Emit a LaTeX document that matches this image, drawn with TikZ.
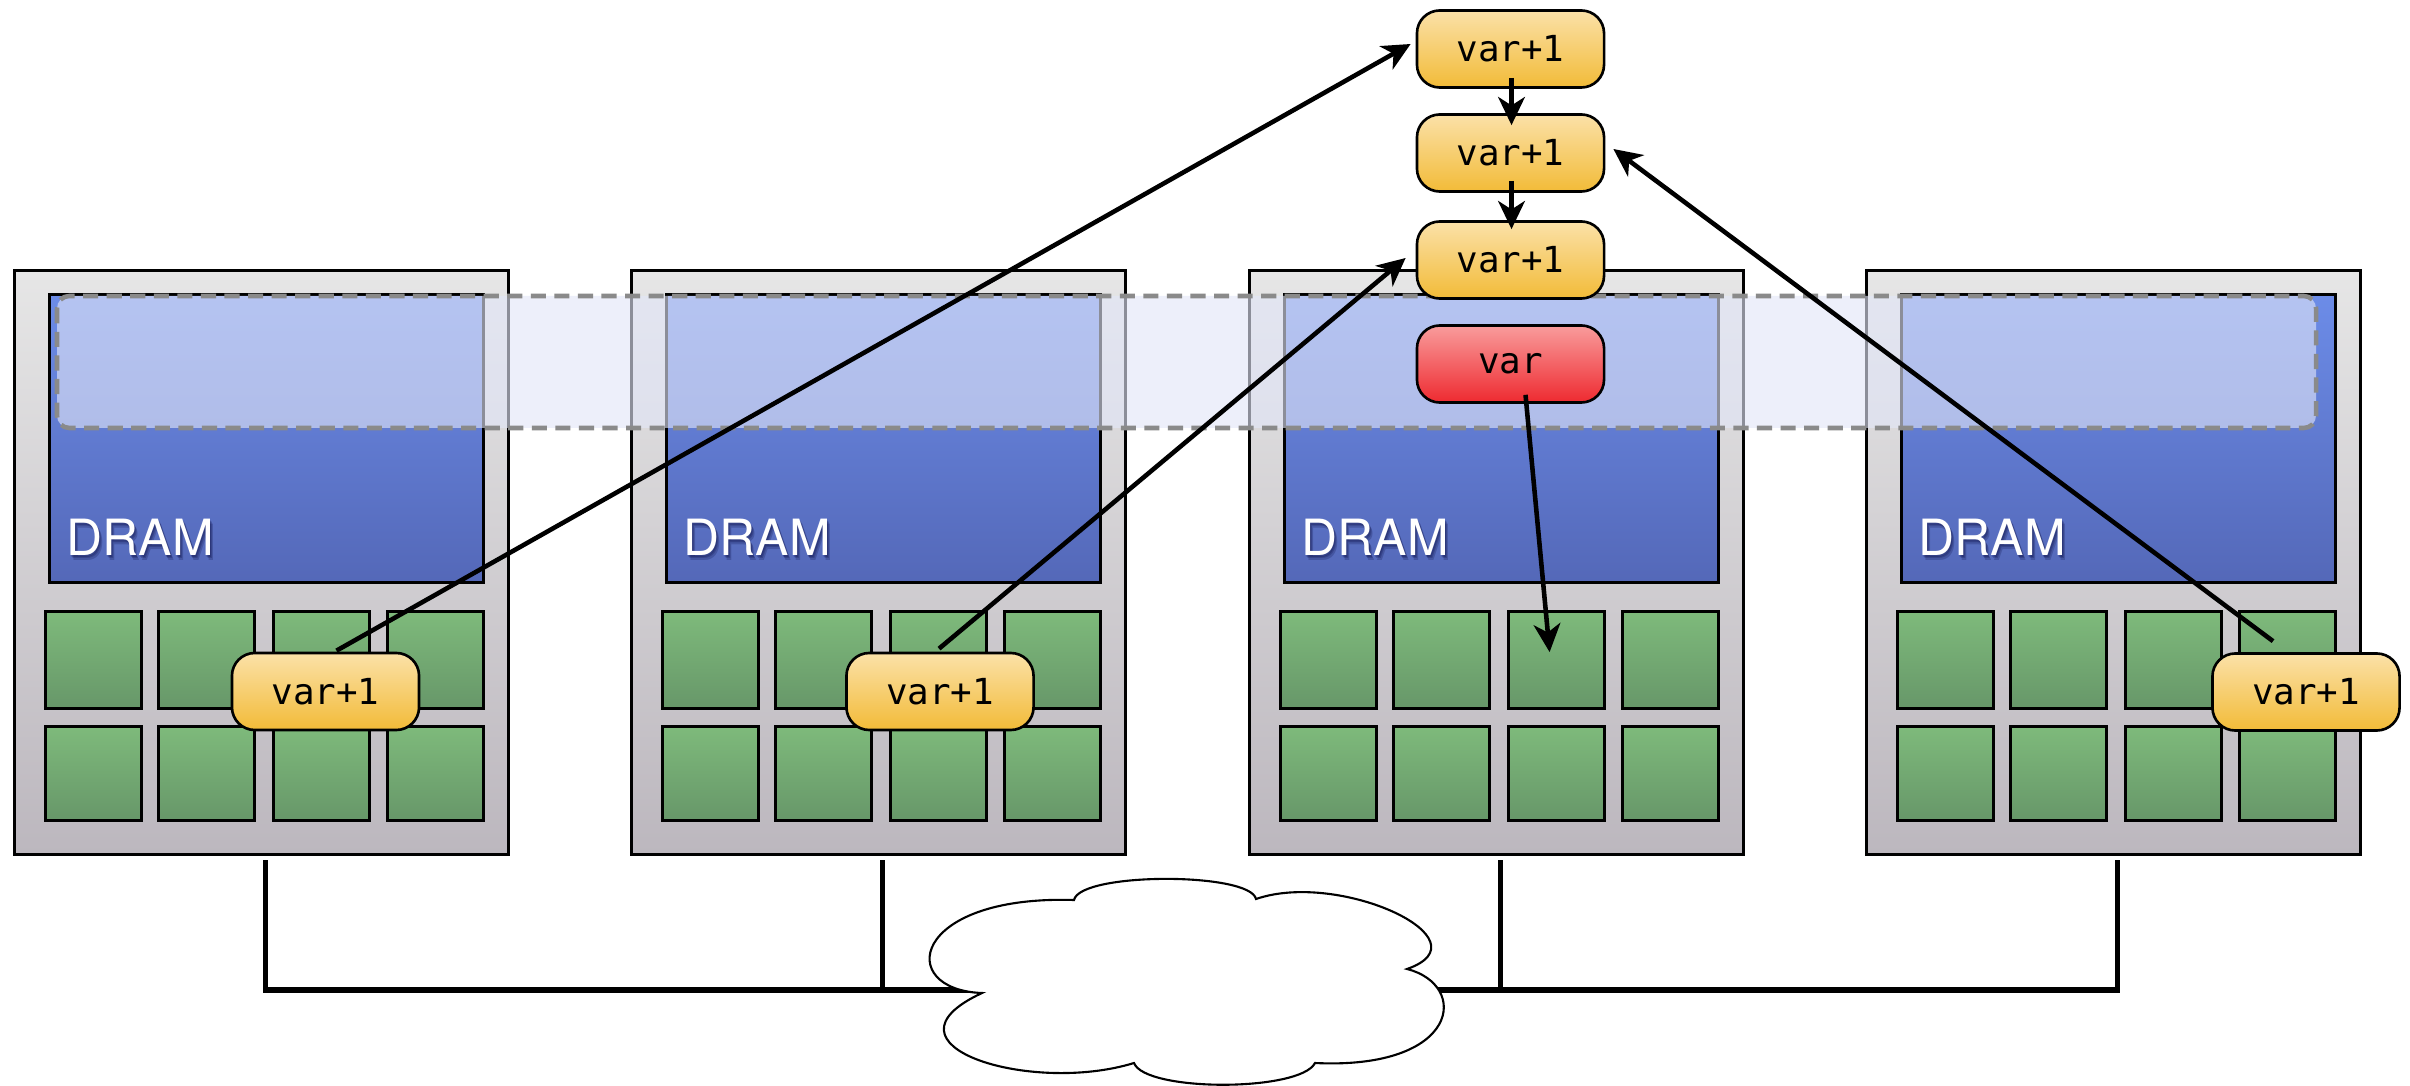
\documentclass[tikz,border=0pt]{standalone}
\usepackage{fontspec}
\setmonofont{DejaVu Sans Mono}
\newfontfamily\dramfont{TeX Gyre Heros}
\usetikzlibrary{arrows.meta,calc}

\definecolor{boardtop}{HTML}{E6E6E6}
\definecolor{boardbot}{HTML}{BCB7BE}
\definecolor{dramtop}{HTML}{6C8CE8}
\definecolor{drambot}{HTML}{5468B8}
\definecolor{coretop}{HTML}{7EBA7B}
\definecolor{corebot}{HTML}{679769}
\definecolor{valtop}{HTML}{FBE1A8}
\definecolor{valbot}{HTML}{F2BB38}
\definecolor{redtop}{HTML}{F99C9C}
\definecolor{redbot}{HTML}{EE2A30}
\definecolor{shelffill}{HTML}{E2E6F8}
\definecolor{shelfline}{HTML}{8A8A8A}

\begin{document}
\begin{tikzpicture}[x=0.01cm,y=-0.01cm,
  board/.style={draw=black, line width=0.8pt, top color=boardtop, bottom color=boardbot,
    anchor=north west, minimum width=4.94cm, minimum height=5.84cm, inner sep=0pt},
  dram/.style={draw=black, line width=0.8pt, top color=dramtop, bottom color=drambot,
    anchor=north west, minimum width=4.34cm, minimum height=2.88cm, inner sep=0pt},
  core/.style={draw=black, line width=0.9pt, top color=coretop, bottom color=corebot,
    anchor=north west, minimum width=0.96cm, inner sep=0pt},
  dramtext/.style={anchor=base west, inner sep=0pt, text=white,
    font=\dramfont\fontsize{14.2}{16}\selectfont},
  dramshade/.style={dramtext, text=black!80!blue, text opacity=0.2},
  value/.style={draw=black, line width=0.75pt, rounded corners=6.5pt,
    minimum width=1.87cm, minimum height=0.77cm, inner sep=0pt,
    top color=valtop, bottom color=valbot,
    font=\ttfamily\fontsize{10.2}{12}\selectfont},
  redvalue/.style={value, top color=redtop, bottom color=redbot},
  shelf/.style={draw=shelfline, line width=1.3pt, dash pattern=on 4.3pt off 2.4pt,
    rounded corners=3.5pt, fill=shelffill, fill opacity=0.62},
  net/.style={line width=1.45pt},
  flow/.style={line width=1.3pt, -{Stealth[length=8pt, width=7.6pt, inset=2.4pt]}},
  cloudline/.style={draw=black, line width=0.6pt, fill=white}
]
\useasboundingbox[fill=white] (0,0) rectangle (2410,1086);

% four nodes: board, memory block, label and eight cores each
\foreach \i/\bx in {1/13,2/630,3/1248,4/1865} {
  \node[board] (b\i) at (\bx,269) {};
  \node[dram] (d\i) at ({\bx+35},293) {};
  \node[dramshade] at ({\bx+55},559) {DRAM};
  \node[dramshade] at ({\bx+56},561) {DRAM};
  \node[dramshade] at ({\bx+54},558) {DRAM};
  \node[dramtext] (l\i) at ({\bx+53},556) {DRAM};
  \foreach \c/\ox in {1/31,2/144,3/259,4/373} {
    \node[core, minimum height=0.97cm] (g\i-1-\c) at ({\bx+\ox},610) {};
    \node[core, minimum height=0.94cm] (g\i-2-\c) at ({\bx+\ox},725) {};
  }
  \coordinate (n\i) at ($(b\i.south)+(4,4)$);
}

% interconnect, running into the cloud
\coordinate (clw) at (1000,990);
\coordinate (cle) at (1425,990);
\draw[net] (n1) |- (clw);
\draw[net] (n2) -- (n2 |- clw);
\draw[net] (n4) |- (cle);
\draw[net] (n3) -- (n3 |- cle);

% network cloud
\path[cloudline] (982,993)
  .. controls (895,990) and (910,895) .. (1074,900)
  .. controls (1080,872) and (1250,872) .. (1256,899)
  .. controls (1340,870) and (1490,940) .. (1407,969)
  .. controls (1470,985) and (1460,1070) .. (1315,1063)
  .. controls (1300,1092) and (1145,1092) .. (1134,1063)
  .. controls (1030,1095) and (870,1045) .. (982,993) -- cycle;

% shared address range across all memories
\path[shelf] (57,296) rectangle (2316,428);

% values
\node[value] (A) at (1510.5,49) {var+1};
\node[value] (B) at (1510.5,153) {var+1};
\node[value] (C) at (1510.5,260) {var+1};
\node[redvalue] (R) at (1510.5,364) {var};
\node[value] (v1) at (325.5,691.5) {var+1};
\node[value] (v2) at (940,691.5) {var+1};
\node[value] (v4) at (2306,692) {var+1};

% updates
\draw[flow] ($(v1.north)+(11,-1)$) -- ($(A.west)+(-5,-5)$);
\draw[flow] ($(v2.north)+(-1,-3)$) -- ($(C.west)+(-10,-2)$);
\draw[flow] ($(v4.north)+(-33,-11)$) -- ($(B.east)+(8,-4)$);
\draw[flow] ($(R.south)+(15,-9)$) -- ($(g3-1-3.center)+(-7,-8)$);
\draw[flow] ($(A.south)+(1,-11)$) -- ($(B.north)+(1,12)$);
\draw[flow] ($(B.south)+(1,-12)$) -- ($(C.north)+(1,9)$);
\end{tikzpicture}
\end{document}
